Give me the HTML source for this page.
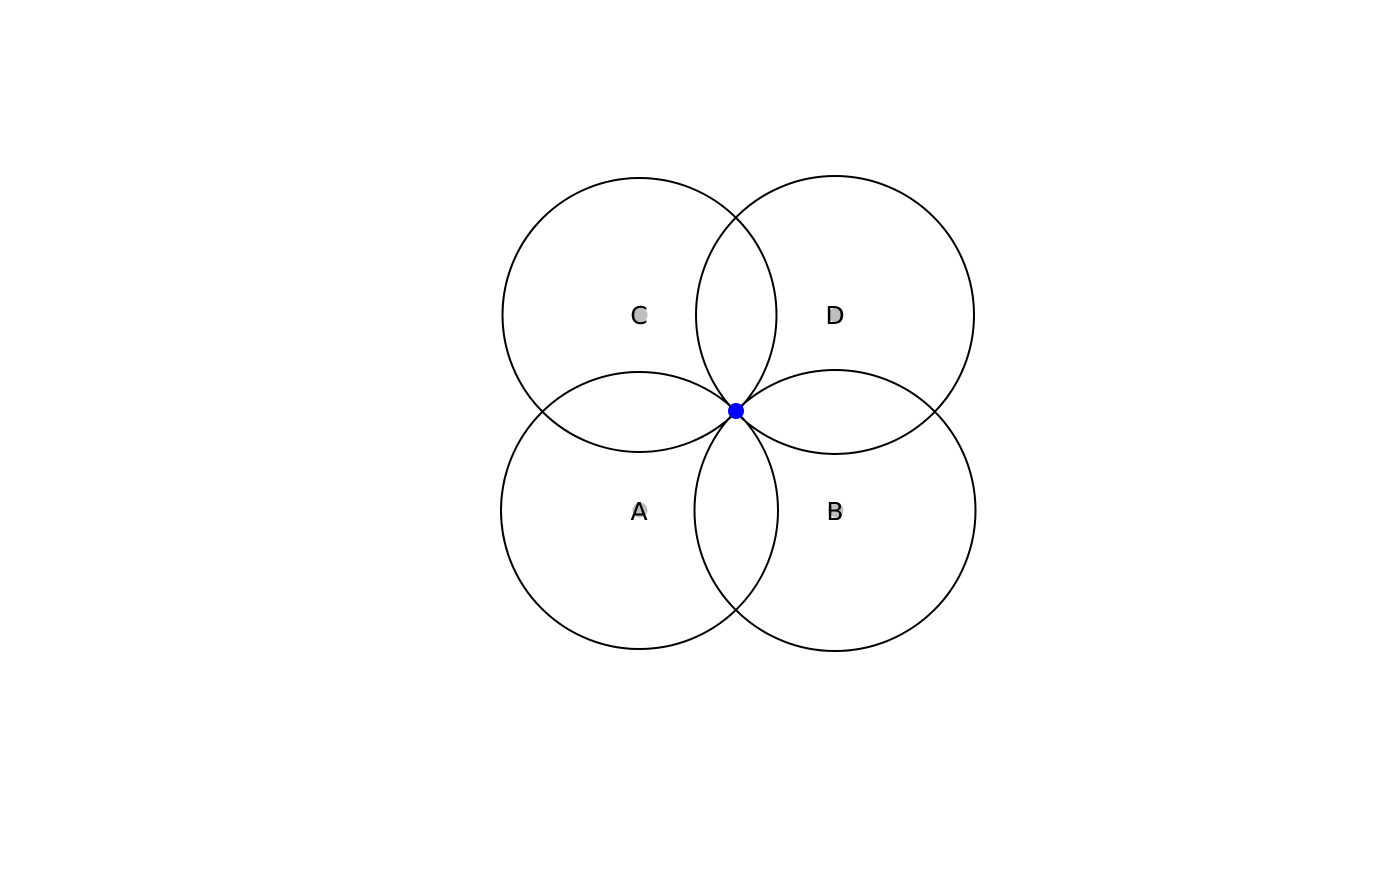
<!DOCTYPE html>
<html><head><style>html,body{margin:0;padding:0;background:#fff}</style></head>
<body>
<svg width="1400" height="866" viewBox="0 0 1400 866" xmlns="http://www.w3.org/2000/svg">
<g fill="#bebebe">
<circle cx="640" cy="315" r="7.5"/>
<circle cx="836" cy="315" r="7.5"/>
<circle cx="640" cy="510" r="7.5"/>
<circle cx="836" cy="510" r="7.5"/>
</g>
<g fill="none" stroke="#000" stroke-width="2">
<circle cx="639.5" cy="315" r="137"/>
<circle cx="835" cy="315" r="139"/>
<circle cx="639.5" cy="510.5" r="138.5"/>
<circle cx="835" cy="510.5" r="140.5"/>
</g>
<circle cx="736" cy="411" r="8" fill="#0000ff"/>
<g font-family="DejaVu Sans, Liberation Sans, sans-serif" font-size="25" text-anchor="middle" fill="#000">
<text x="639" y="324">C</text>
<text x="835" y="324">D</text>
<text x="639" y="520">A</text>
<text x="835" y="520">B</text>
</g>
</svg>
</body></html>
